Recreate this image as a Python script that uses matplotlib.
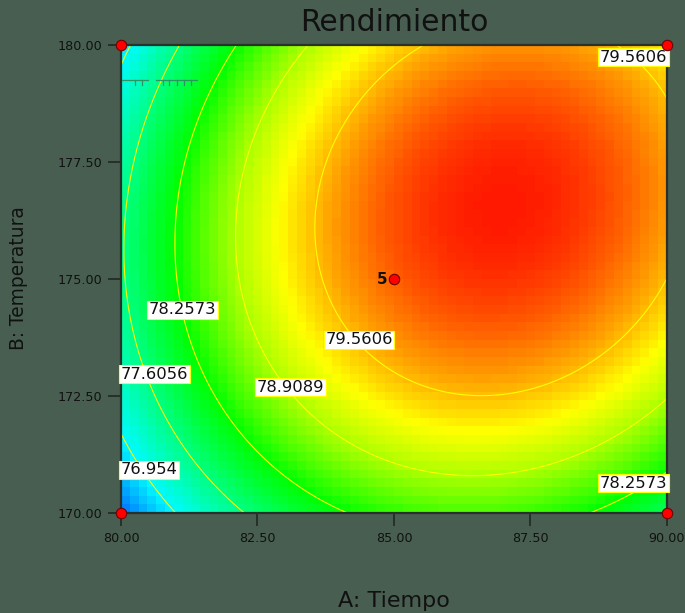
import numpy as np
import matplotlib.pyplot as plt
from matplotlib.colors import LinearSegmentedColormap

# Modelo cuadrático en unidades codificadas (x1 = Tiempo, x2 = Temperatura)
b0 = 79.9184
b_lin = [1.0039, 0.5079]          # x1, x2
b_quad = [-1.3644, -0.9869]       # x1^2, x2^2
b_int = 0.2574                    # x1*x2

tiempo_rango = [80.0, 90.0]
temp_rango = [170.0, 180.0]
niveles = [76.954, 77.6056, 78.2573, 78.9089, 79.5606]

# posiciones de las etiquetas de contorno (A, B, nivel)
etiquetas = [
    (89.27, 179.74, 79.5606),
    (81.12, 174.34, 78.2573),
    (80.68, 172.97, 77.6056),
    (84.36, 173.70, 79.5606),
    (83.10, 172.69, 78.9089),
    (80.59, 170.92, 76.954),
    (89.27, 170.64, 78.2573),
]

# puntos del diseño: esquinas y punto central (5 réplicas)
dis_A = [80, 80, 90, 90, 85]
dis_B = [170, 180, 170, 180, 175]
replicas_centro = 5

# escala de color (valor, color)
escala_val = [76.31, 76.95, 77.55, 78.25, 78.9, 79.3, 79.56, 79.8, 80.05, 80.2]
escala_col = ['#006eff', '#00faff', '#00ff8c', '#00ff00', '#aaff00',
              '#ffff00', '#ffbe00', '#ff8200', '#ff4000', '#ff1900']


def rendimiento(A, B):
    x1 = (A - 85.0) / 5.0
    x2 = (B - 175.0) / 5.0
    return (b0 + b_lin[0] * x1 + b_lin[1] * x2 + b_quad[0] * x1**2
            + b_quad[1] * x2**2 + b_int * x1 * x2)


plt.rcParams['font.family'] = ['DejaVu Sans']
fondo = '#475e51'
fig = plt.figure(figsize=(6.85, 6.13), dpi=100, facecolor=fondo)
ax = fig.add_axes([0.1766, 0.1631, 0.797, 0.7635])

vmin, vmax = escala_val[0], escala_val[-1]
cmap = LinearSegmentedColormap.from_list(
    'rend', [((v - vmin) / (vmax - vmin), c) for v, c in zip(escala_val, escala_col)])

# superficie en celdas (aspecto pixelado)
ea = np.linspace(*tiempo_rango, 63)
eb = np.linspace(*temp_rango, 55)
ca = 0.5 * (ea[:-1] + ea[1:])
cb = 0.5 * (eb[:-1] + eb[1:])
CA, CB = np.meshgrid(ca, cb)
ax.pcolormesh(ea, eb, rendimiento(CA, CB), cmap=cmap, vmin=vmin, vmax=vmax,
              shading='flat', zorder=1)

# curvas de nivel
fa = np.linspace(*tiempo_rango, 300)
fb = np.linspace(*temp_rango, 300)
FA, FB = np.meshgrid(fa, fb)
ax.contour(FA, FB, rendimiento(FA, FB), levels=niveles, colors='#ffff00',
           linewidths=0.8, zorder=2)

for a, b, lev in etiquetas:
    ha = 'right' if a > 89 else ('left' if a < 80.7 else 'center')
    xa = 90 if ha == 'right' else (80 if ha == 'left' else a)
    ax.text(xa, b, f'{lev:g}', fontsize=11.8, color='#111111', ha=ha, va='center',
            zorder=4,
            bbox=dict(boxstyle='square,pad=0.1', fc='white', ec='#ffff00', lw=0.8))

# trazo de escala en la esquina superior izquierda
sb_y = 179.25
sb_col = '#2e9263'
ax.plot([80.02, 80.49], [sb_y, sb_y], color=sb_col, lw=0.9, zorder=3)
ax.plot([80.64, 81.39], [sb_y, sb_y], color=sb_col, lw=0.9, zorder=3)
for t in [80.26, 80.39, 80.77, 80.88, 81.03, 81.16, 81.29]:
    ax.plot([t, t], [sb_y, sb_y - 0.1], color=sb_col, lw=0.9, zorder=3)

# puntos del diseño
ax.plot(dis_A, dis_B, 'o', ms=7.5, mfc='#ff0000', mec='#700000', mew=0.8,
        clip_on=False, zorder=5)
ax.annotate(str(replicas_centro), (dis_A[-1], dis_B[-1]), xytext=(-5, 0),
            textcoords='offset points', ha='right', va='center',
            fontsize=11, fontweight='bold', color='#111111', zorder=5)

ax.set_xlim(*tiempo_rango)
ax.set_ylim(*temp_rango)
ax.set_xticks([80, 82.5, 85, 87.5, 90])
ax.set_yticks([170, 172.5, 175, 177.5, 180])
ax.xaxis.set_major_formatter(lambda v, p: f'{v:.2f}')
ax.yaxis.set_major_formatter(lambda v, p: f'{v:.2f}')
ax.tick_params(direction='out', length=9.5, width=1.1, color='#1e2420',
               labelsize=9.2, labelcolor='#111111', pad=4)
for s in ax.spines.values():
    s.set_color('#2a302c')
    s.set_linewidth(1.6)

fig.text(0.575, 0.964, 'Rendimiento', fontsize=21.5, color='#111111',
         ha='center', va='center')
fig.text(0.575, 0.0196, 'A: Tiempo', fontsize=16, color='#111111',
         ha='center', va='center')
fig.text(0.0277, 0.5465, 'B: Temperatura', fontsize=13.4, color='#111111',
         ha='center', va='center', rotation=90)

fig.savefig('out.png', dpi=100, facecolor=fondo)
